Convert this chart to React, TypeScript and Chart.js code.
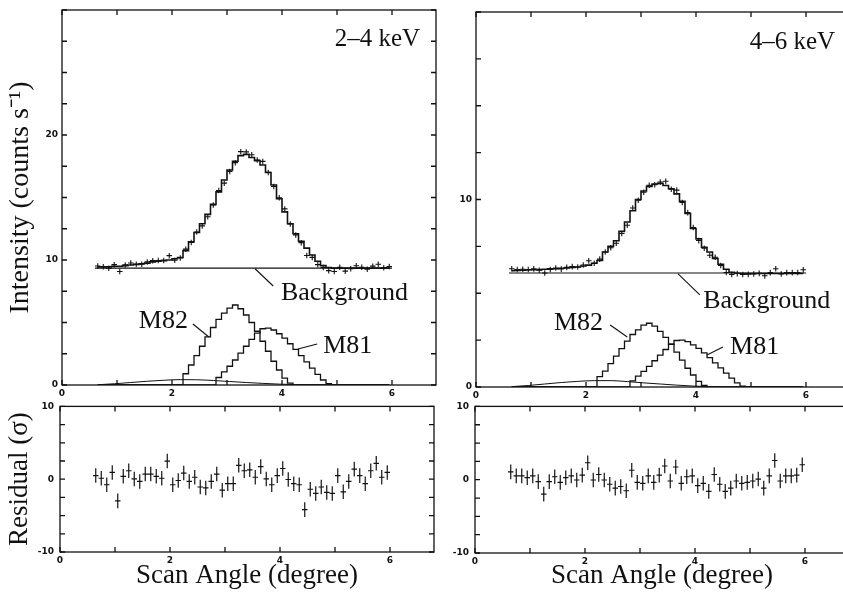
import React, { useEffect, useRef } from "react";
import { Chart, registerables } from "chart.js";

Chart.register(...registerables);

// ---------------- data ----------------
const SCAN_ANGLE = [
  0.65, 0.75, 0.85, 0.95, 1.05, 1.15, 1.25, 1.35, 1.45, 1.55,
  1.65, 1.75, 1.85, 1.95, 2.05, 2.15, 2.25, 2.35, 2.45, 2.55,
  2.65, 2.75, 2.85, 2.95, 3.05, 3.15, 3.25, 3.35, 3.45, 3.55,
  3.65, 3.75, 3.85, 3.95, 4.05, 4.15, 4.25, 4.35, 4.45, 4.55,
  4.65, 4.75, 4.85, 4.95, 5.05, 5.15, 5.25, 5.35, 5.45, 5.55,
  5.65, 5.75, 5.85, 5.95,
];

// 2-4 keV
const LOW_DATA = [
  9.52, 9.47, 9.34, 9.63, 9.08, 9.61, 9.76, 9.66, 9.66, 9.85,
  9.95, 9.96, 9.97, 10.35, 9.99, 10.17, 10.87, 11.41, 12.24, 12.73,
  13.46, 14.4, 15.56, 16.15, 17.09, 17.79, 18.67, 18.65, 18.42, 18.0,
  17.89, 17.01, 15.88, 14.98, 14.09, 12.89, 12.01, 11.39, 10.36, 10.21,
  9.63, 9.4, 9.15, 9.08, 9.42, 9.11, 9.31, 9.54, 9.42, 9.26,
  9.51, 9.66, 9.39, 9.48,
];
const LOW_MODEL = [
  9.45, 9.45, 9.45, 9.5, 9.5, 9.55, 9.6, 9.65, 9.7, 9.75,
  9.85, 9.9, 9.95, 10.0, 10.1, 10.2, 10.75, 11.45, 12.2, 12.9,
  13.65, 14.45, 15.45, 16.4, 17.2, 17.9, 18.35, 18.45, 18.2, 17.95,
  17.6, 17.0, 16.0, 14.9, 13.85, 12.9, 12.1, 11.5, 10.95, 10.4,
  9.9, 9.55, 9.4, 9.35, 9.35, 9.35, 9.35, 9.35, 9.35, 9.35,
  9.35, 9.35, 9.35, 9.35,
];
const LOW_M82 = [
  0, 0, 0, 0, 0, 0, 0, 0, 0, 0,
  0, 0, 0, 0, 0, 0, 0.9, 1.6, 2.35, 3.1,
  3.85, 4.6, 5.25, 5.75, 6.15, 6.4, 6.1, 5.6, 5.0, 4.3,
  3.5, 2.7, 1.9, 1.2, 0.55, 0.15, 0, 0, 0, 0,
  0, 0, 0, 0, 0, 0, 0, 0, 0, 0,
  0, 0, 0, 0,
];
const LOW_M81 = [
  0, 0, 0, 0, 0, 0, 0, 0, 0, 0,
  0, 0, 0, 0, 0, 0, 0, 0, 0, 0,
  0, 0, 0.6, 1.05, 1.5, 2.0, 2.55, 3.1, 3.65, 4.15,
  4.5, 4.55, 4.4, 4.1, 3.75, 3.3, 2.85, 2.35, 1.85, 1.35,
  0.85, 0.4, 0.1, 0, 0, 0, 0, 0, 0, 0,
  0, 0, 0, 0,
];
const LOW_RESID = [
  0.5, 0.13, -0.76, 0.93, -2.98, 0.4, 1.16, 0.04, -0.31, 0.71,
  0.71, 0.4, 0.13, 2.49, -0.76, -0.18, 0.84, -0.31, 0.27, -1.07,
  -1.2, -0.31, 0.71, -1.51, -0.62, -0.62, 1.91, 1.16, 1.29, 0.27,
  1.73, 0.04, -0.76, 0.49, 1.47, -0.04, -0.62, -0.76, -4.18, -1.38,
  -1.96, -1.07, -1.82, -1.96, 0.49, -1.73, -0.31, 1.38, 0.49, -0.62,
  1.16, 2.18, 0.27, 0.93,
];

// 4-6 keV
const HIGH_DATA = [
  6.31, 6.27, 6.28, 6.27, 6.3, 6.23, 6.08, 6.27, 6.35, 6.29,
  6.38, 6.42, 6.4, 6.51, 6.73, 6.6, 6.82, 7.2, 7.43, 7.67,
  8.19, 8.63, 9.55, 9.96, 10.39, 10.76, 10.79, 10.93, 10.97, 10.55,
  10.5, 9.84, 9.3, 8.51, 7.81, 7.4, 7.03, 6.92, 6.48, 6.11,
  6.0, 6.05, 6.0, 6.01, 6.03, 6.06, 5.93, 6.1, 6.31, 6.03,
  6.1, 6.1, 6.11, 6.25,
];
const HIGH_MODEL = [
  6.2, 6.22, 6.23, 6.24, 6.25, 6.26, 6.28, 6.3, 6.31, 6.33,
  6.35, 6.37, 6.4, 6.45, 6.5, 6.6, 6.75, 7.2, 7.5, 7.8,
  8.3, 8.8, 9.4, 10.0, 10.45, 10.7, 10.83, 10.86, 10.75, 10.57,
  10.3, 9.9, 9.25, 8.45, 7.9, 7.45, 7.2, 6.85, 6.55, 6.28,
  6.12, 6.07, 6.05, 6.05, 6.05, 6.05, 6.05, 6.05, 6.05, 6.05,
  6.05, 6.05, 6.05, 6.05,
];
const HIGH_M82 = [
  0, 0, 0, 0, 0, 0, 0, 0, 0, 0,
  0, 0, 0, 0, 0, 0, 0.55, 0.85, 1.25, 1.65,
  2.05, 2.45, 2.8, 3.05, 3.3, 3.4, 3.25, 2.97, 2.65, 2.28,
  1.86, 1.43, 1.0, 0.64, 0.3, 0.08, 0, 0, 0, 0,
  0, 0, 0, 0, 0, 0, 0, 0, 0, 0,
  0, 0, 0, 0,
];
const HIGH_M81 = [
  0, 0, 0, 0, 0, 0, 0, 0, 0, 0,
  0, 0, 0, 0, 0, 0, 0, 0, 0, 0,
  0, 0, 0.33, 0.58, 0.83, 1.1, 1.4, 1.7, 2.0, 2.28,
  2.48, 2.5, 2.42, 2.25, 2.06, 1.82, 1.57, 1.29, 1.02, 0.74,
  0.47, 0.22, 0.05, 0, 0, 0, 0, 0, 0, 0,
  0, 0, 0, 0,
];
const HIGH_RESID = [
  1.07, 0.53, 0.53, 0.27, 0.53, -0.27, -1.96, -0.27, 0.4, -0.36,
  0.27, 0.53, -0.04, 0.62, 2.31, -0.04, 0.71, -0.04, -0.62, -1.16,
  -0.93, -1.51, 1.29, -0.36, -0.49, 0.53, -0.36, 0.62, 1.87, -0.18,
  1.73, -0.49, 0.4, 0.53, -0.8, -0.49, -1.6, 0.71, -0.62, -1.6,
  -1.16, -0.18, -0.49, -0.36, -0.18, 0.09, -1.16, 0.53, 2.62, -0.18,
  0.53, 0.53, 0.62, 2.04,
];

// broad (diffuse) component
const BROAD_ANGLE = [0.65, 0.95, 1.25, 1.55, 1.85, 2.15, 2.45, 2.75, 3.05, 3.35, 3.65, 3.95, 4.25, 4.55, 4.85];
const LOW_BROAD = [0.02, 0.1, 0.2, 0.3, 0.38, 0.43, 0.42, 0.36, 0.28, 0.2, 0.13, 0.07, 0.03, 0.01, 0];
const HIGH_BROAD = [0.02, 0.08, 0.16, 0.24, 0.3, 0.34, 0.34, 0.29, 0.22, 0.16, 0.1, 0.05, 0.02, 0.01, 0];

// background level
const BG_ANGLE = [0.6, 6.0];
const LOW_BG = [9.35, 9.35];
const HIGH_BG = [6.08, 6.08];

// axes
const X_TICKS = [0, 1, 2, 3, 4, 5, 6];
const X_LABELED = [0, 2, 4, 6];
const LOW_Y_LABELED = [0, 10, 20];
const HIGH_Y_LABELED = [0, 10];
const RES_Y_LABELED = [-10, 0, 10];

const DATA_ERR_LOW = 0.22;
const DATA_ERR_HIGH = 0.15;
const RES_ERR = 1;
const BIN_HALF = 0.05;

// ---------------- helpers ----------------
const INK = "#111";
const TICK_FONT = { family: "'DejaVu Sans', sans-serif", size: 9, weight: "bold" as const };

const pts = (xs: number[], ys: number[]) => xs.map((x, i) => ({ x, y: ys[i] }));

const framePlugin = {
  id: "frame",
  afterDatasetsDraw(chart: any) {
    const { ctx, chartArea: a, scales } = chart;
    const x = scales.x, y = scales.y;
    const L = 5;
    ctx.save();
    ctx.strokeStyle = INK;
    ctx.lineWidth = 1.3;
    ctx.strokeRect(a.left, a.top, a.right - a.left, a.bottom - a.top);
    ctx.beginPath();
    for (const t of x.ticks) {
      const px = x.getPixelForValue(t.value);
      ctx.moveTo(px, a.bottom);
      ctx.lineTo(px, a.bottom - L);
      ctx.moveTo(px, a.top);
      ctx.lineTo(px, a.top + L);
    }
    for (const t of y.ticks) {
      const py = y.getPixelForValue(t.value);
      ctx.moveTo(a.left, py);
      ctx.lineTo(a.left + L, py);
      ctx.moveTo(a.right, py);
      ctx.lineTo(a.right - L, py);
    }
    ctx.stroke();
    ctx.restore();
  },
};

const errorBarPlugin = {
  id: "errorBars",
  afterDatasetsDraw(chart: any) {
    const { ctx, scales } = chart;
    const x = scales.x, y = scales.y;
    chart.data.datasets.forEach((ds: any) => {
      if (ds.errY === undefined) return;
      ctx.save();
      ctx.strokeStyle = INK;
      ctx.lineWidth = ds.errWidth || 1.1;
      ctx.beginPath();
      for (const p of ds.data) {
        const cy = y.getPixelForValue(p.y);
        const cx = x.getPixelForValue(p.x);
        ctx.moveTo(x.getPixelForValue(p.x - ds.errX), cy);
        ctx.lineTo(x.getPixelForValue(p.x + ds.errX), cy);
        ctx.moveTo(cx, y.getPixelForValue(p.y - ds.errY));
        ctx.lineTo(cx, y.getPixelForValue(p.y + ds.errY));
      }
      ctx.stroke();
      ctx.restore();
    });
  },
};

const annotPlugin = {
  id: "annot",
  afterDraw(chart: any, _args: any, opts: any) {
    const { ctx, scales } = chart;
    const x = scales.x, y = scales.y;
    ctx.save();
    ctx.strokeStyle = INK;
    ctx.fillStyle = INK;
    ctx.lineWidth = 1.1;
    for (const l of opts.lines || []) {
      ctx.beginPath();
      ctx.moveTo(x.getPixelForValue(l[0]), y.getPixelForValue(l[1]));
      ctx.lineTo(x.getPixelForValue(l[2]), y.getPixelForValue(l[3]));
      ctx.stroke();
    }
    ctx.textBaseline = "alphabetic";
    for (const t of opts.labels || []) {
      ctx.font = `${t.size}px 'Liberation Serif', serif`;
      ctx.textAlign = t.align;
      ctx.fillText(t.text, x.getPixelForValue(t.x), y.getPixelForValue(t.y));
    }
    ctx.restore();
  },
};

type Layout = {
  pad: { left: number; top: number; right: number; bottom: number };
  yWidth: number;
  xHeight: number;
};

function xScale(layout: Layout, title?: string) {
  return {
    type: "linear",
    min: 0,
    max: 6.8,
    afterBuildTicks: (s: any) => {
      s.ticks = X_TICKS.map((v) => ({ value: v }));
    },
    afterFit: (s: any) => {
      s.height = layout.xHeight;
    },
    grid: { display: false, drawTicks: false },
    border: { display: false },
    ticks: {
      autoSkip: false,
      maxRotation: 0,
      padding: 3,
      color: INK,
      font: TICK_FONT,
      callback: (v: any) => (X_LABELED.includes(Number(v)) ? String(v) : ""),
    },
    title: title
      ? {
          display: true,
          text: title,
          color: INK,
          font: { family: "'Liberation Serif', serif", size: 27, lineHeight: 1.2 },
          padding: { top: 0, bottom: 0 },
        }
      : { display: false },
  };
}

function yScale(layout: Layout, min: number, max: number, labeled: number[], pad: number, title?: string, titleSize = 27) {
  return {
    type: "linear",
    min,
    max,
    afterFit: (s: any) => {
      s.width = layout.yWidth;
    },
    grid: { display: false, drawTicks: false },
    border: { display: false },
    ticks: {
      stepSize: 2.5,
      autoSkip: false,
      padding: pad,
      color: INK,
      font: TICK_FONT,
      callback: (v: any) => (labeled.includes(Number(v)) ? String(v) : ""),
    },
    title: title
      ? {
          display: true,
          text: title,
          color: INK,
          font: { family: "'Liberation Serif', serif", size: titleSize, lineHeight: 1.2 },
          padding: { top: 4, bottom: 0 },
        }
      : { display: false },
  };
}

function topConfig(o: {
  data: number[]; model: number[]; m82: number[]; m81: number[]; broad: number[]; bg: number[];
  err: number; yMax: number; labeled: number[]; layout: Layout; yTitle?: string; annot: any;
}) {
  return {
    type: "line",
    data: {
      datasets: [
        { label: "Data", data: pts(SCAN_ANGLE, o.data), showLine: false, pointRadius: 0, borderColor: INK, errY: o.err, errX: BIN_HALF },
        { label: "Model", data: pts(SCAN_ANGLE, o.model), stepped: "middle", borderColor: INK, borderWidth: 1.6, pointRadius: 0 },
        { label: "Background", data: pts(BG_ANGLE, o.bg), borderColor: INK, borderWidth: 1.2, pointRadius: 0 },
        { label: "M82", data: pts(SCAN_ANGLE, o.m82), stepped: "middle", borderColor: INK, borderWidth: 1.3, pointRadius: 0 },
        { label: "M81", data: pts(SCAN_ANGLE, o.m81), stepped: "middle", borderColor: INK, borderWidth: 1.3, pointRadius: 0 },
        { label: "Diffuse", data: pts(BROAD_ANGLE, o.broad), borderColor: INK, borderWidth: 1, pointRadius: 0, tension: 0.4, cubicInterpolationMode: "monotone" },
      ],
    },
    options: {
      responsive: false,
      animation: false,
      devicePixelRatio: 1,
      layout: { padding: o.layout.pad },
      plugins: { legend: { display: false }, tooltip: { enabled: false }, annot: o.annot },
      scales: {
        x: xScale(o.layout),
        y: yScale(o.layout, 0, o.yMax, o.labeled, 4, o.yTitle, 28),
      },
    },
    plugins: [errorBarPlugin, framePlugin, annotPlugin],
  };
}

function residConfig(o: { resid: number[]; layout: Layout; yTitle?: string }) {
  return {
    type: "line",
    data: {
      datasets: [
        { label: "Residual", data: pts(SCAN_ANGLE, o.resid), showLine: false, pointRadius: 0, borderColor: INK, errY: RES_ERR, errX: BIN_HALF, errWidth: 1.2 },
      ],
    },
    options: {
      responsive: false,
      animation: false,
      devicePixelRatio: 1,
      layout: { padding: o.layout.pad },
      plugins: { legend: { display: false }, tooltip: { enabled: false } },
      scales: {
        x: xScale(o.layout, "Scan Angle (degree)"),
        y: yScale(o.layout, -10, 10, RES_Y_LABELED, 6, o.yTitle, 27),
      },
    },
    plugins: [errorBarPlugin, framePlugin],
  };
}

function ChartCanvas(props: { config: any; left: number; top: number; width: number; height: number }) {
  const ref = useRef<HTMLCanvasElement>(null);
  useEffect(() => {
    const chart = new Chart(ref.current as HTMLCanvasElement, props.config);
    return () => chart.destroy();
  }, []);
  return (
    <canvas
      ref={ref}
      width={props.width}
      height={props.height}
      style={{ position: "absolute", left: props.left, top: props.top, width: props.width, height: props.height }}
    />
  );
}

const LOW_ANNOT = {
  labels: [
    { text: "2–4 keV", x: 6.51, y: 27.1, align: "right", size: 25 },
    { text: "Background", x: 3.98, y: 6.8, align: "left", size: 26 },
    { text: "M82", x: 2.29, y: 4.56, align: "right", size: 26 },
    { text: "M81", x: 4.75, y: 2.56, align: "left", size: 26 },
  ],
  lines: [
    [3.51, 9.3, 3.84, 7.92],
    [2.38, 4.88, 2.67, 3.84],
    [4.64, 3.28, 4.29, 2.88],
  ],
};

const HIGH_ANNOT = {
  labels: [
    { text: "4–6 keV", x: 6.53, y: 18.03, align: "right", size: 25 },
    { text: "Background", x: 4.13, y: 4.21, align: "left", size: 26 },
    { text: "M82", x: 2.31, y: 3.04, align: "right", size: 26 },
    { text: "M81", x: 4.62, y: 1.76, align: "left", size: 26 },
  ],
  lines: [
    [3.67, 6.05, 4.07, 4.91],
    [2.44, 3.31, 2.75, 2.67],
    [4.49, 2.13, 4.2, 1.71],
  ],
};

export default function App() {
  const lowTop = topConfig({
    data: LOW_DATA, model: LOW_MODEL, m82: LOW_M82, m81: LOW_M81, broad: LOW_BROAD, bg: LOW_BG,
    err: DATA_ERR_LOW, yMax: 30, labeled: LOW_Y_LABELED,
    layout: { pad: { left: 0, top: 10, right: 14, bottom: 0 }, yWidth: 62, xHeight: 15 },
    yTitle: "Intensity (counts s⁻¹)", annot: LOW_ANNOT,
  });
  const highTop = topConfig({
    data: HIGH_DATA, model: HIGH_MODEL, m82: HIGH_M82, m81: HIGH_M81, broad: HIGH_BROAD, bg: HIGH_BG,
    err: DATA_ERR_HIGH, yMax: 20, labeled: HIGH_Y_LABELED,
    layout: { pad: { left: 0, top: 12, right: 10, bottom: 0 }, yWidth: 36, xHeight: 13 },
    annot: HIGH_ANNOT,
  });
  const lowRes = residConfig({
    resid: LOW_RESID,
    layout: { pad: { left: 0, top: 7, right: 16, bottom: 0 }, yWidth: 60, xHeight: 40 },
    yTitle: "Residual (σ)",
  });
  const highRes = residConfig({
    resid: HIGH_RESID,
    layout: { pad: { left: 0, top: 8, right: 11, bottom: 0 }, yWidth: 35, xHeight: 39 },
  });
  return (
    <div style={{ position: "absolute", left: 0, top: 0, width: 843, height: 592, overflow: "hidden", background: "#fff" }}>
      <ChartCanvas config={lowTop} left={0} top={0} width={450} height={400} />
      <ChartCanvas config={lowRes} left={0} top={395} width={450} height={197} />
      <ChartCanvas config={highTop} left={440} top={0} width={420} height={400} />
      <ChartCanvas config={highRes} left={440} top={395} width={420} height={197} />
    </div>
  );
}
